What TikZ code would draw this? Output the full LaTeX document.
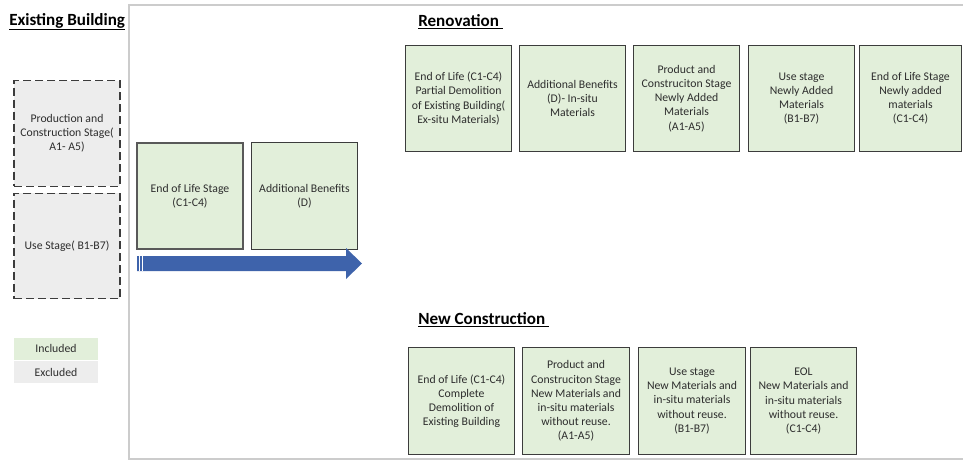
\documentclass[tikz,border=0pt]{standalone}
\usepackage{fontspec}
\setmainfont{Carlito}
\definecolor{incl}{RGB}{226,239,218}
\definecolor{excl}{RGB}{237,237,237}
\definecolor{boxline}{RGB}{60,60,60}
\definecolor{txt}{RGB}{45,45,45}
\definecolor{arrowblue}{RGB}{62,99,171}
\definecolor{framegray}{RGB}{204,204,204}

\begin{document}
\begin{tikzpicture}[x=0.75pt, y=-0.75pt, font=\fontsize{8.8}{10.6}\selectfont,
  stage/.style={draw=boxline, line width=0.9pt, fill=incl, text=txt, align=center,
    minimum width=80pt, minimum height=80pt, inner sep=1pt},
  oldstage/.style={draw=boxline, line width=0.9pt, dash pattern=on 6pt off 3pt, fill=excl,
    text=txt, align=center, minimum width=79.5pt, minimum height=79pt, inner sep=1pt},
  legend/.style={text=txt, minimum width=63pt, minimum height=16.5pt, inner sep=0pt},
  heading/.style={anchor=base west, inner sep=0pt, font=\fontsize{12.8}{15}\selectfont\bfseries}]
  \useasboundingbox (0,0) rectangle (963,461);
  % frame
  \draw[framegray, line width=1.5pt] (963,4.5) -- (128.5,4.5) -- (128.5,458.5) -- (963,458.5);
  % headings
  \node[heading] (existing) at (9,25) {\underline{Existing Building}};
  \node[heading] (renovation) at (418,26) {\underline{Renovation\ }};
  \node[heading] (newcons) at (418,324) {\underline{New Construction\ }};
  % existing building
  \node[oldstage] (prod) at (67,133.5) {Production and\\Construction Stage(\\A1- A5)};
  \node[oldstage] (use) at (67,246) {Use Stage( B1-B7)};
  \node[stage, draw=gray!70!black, line width=1.3pt] (eol) at (190,196) {End of Life Stage\\(C1-C4)};
  \node[stage] (ben) at (304.5,196) {Additional Benefits\\(D)};
  % arrow
  \fill[arrowblue] (137,256) -- (346,256) -- (346,248) -- (362,263.5) -- (346,279)
    -- (346,271) -- (137,271) -- cycle;
  \draw[white, line width=0.5pt] (139.5,256) -- (139.5,271) (142.5,256) -- (142.5,271);
  % renovation
  \node[stage] (ren1) at (458.5,98.5) {End of Life (C1-C4)\\Partial Demolition\\of Existing Building(\\Ex-situ Materials)};
  \node[stage] (ren2) at (572.5,98.5) {Additional Benefits\\(D)- In-situ\\Materials};
  \node[stage] (ren3) at (686.5,98.5) {Product and\\Construciton Stage\\Newly Added\\Materials\\(A1-A5)};
  \node[stage] (ren4) at (801.5,98.5) {Use stage\\Newly Added\\Materials\\(B1-B7)};
  \node[stage, minimum width=77pt] (ren5) at (910.5,98.5) {End of Life Stage\\Newly added\\materials\\(C1-C4)};
  % new construction
  \node[stage] (new1) at (461.5,401) {End of Life (C1-C4)\\Complete\\Demolition of\\Existing Building};
  \node[stage] (new2) at (576,401) {Product and\\Construciton Stage\\New Materials and\\in-situ materials\\without reuse.\\(A1-A5)};
  \node[stage] (new3) at (692,401) {Use stage\\New Materials and\\in-situ materials\\without reuse.\\(B1-B7)};
  \node[stage] (new4) at (803.5,401) {EOL\\New Materials and\\in-situ materials\\without reuse.\\(C1-C4)};
  % legend
  \node[legend, fill=incl] (included) at (56,348.5) {Included};
  \node[legend, fill=excl] (excluded) at (56,372) {Excluded};
\end{tikzpicture}
\end{document}
